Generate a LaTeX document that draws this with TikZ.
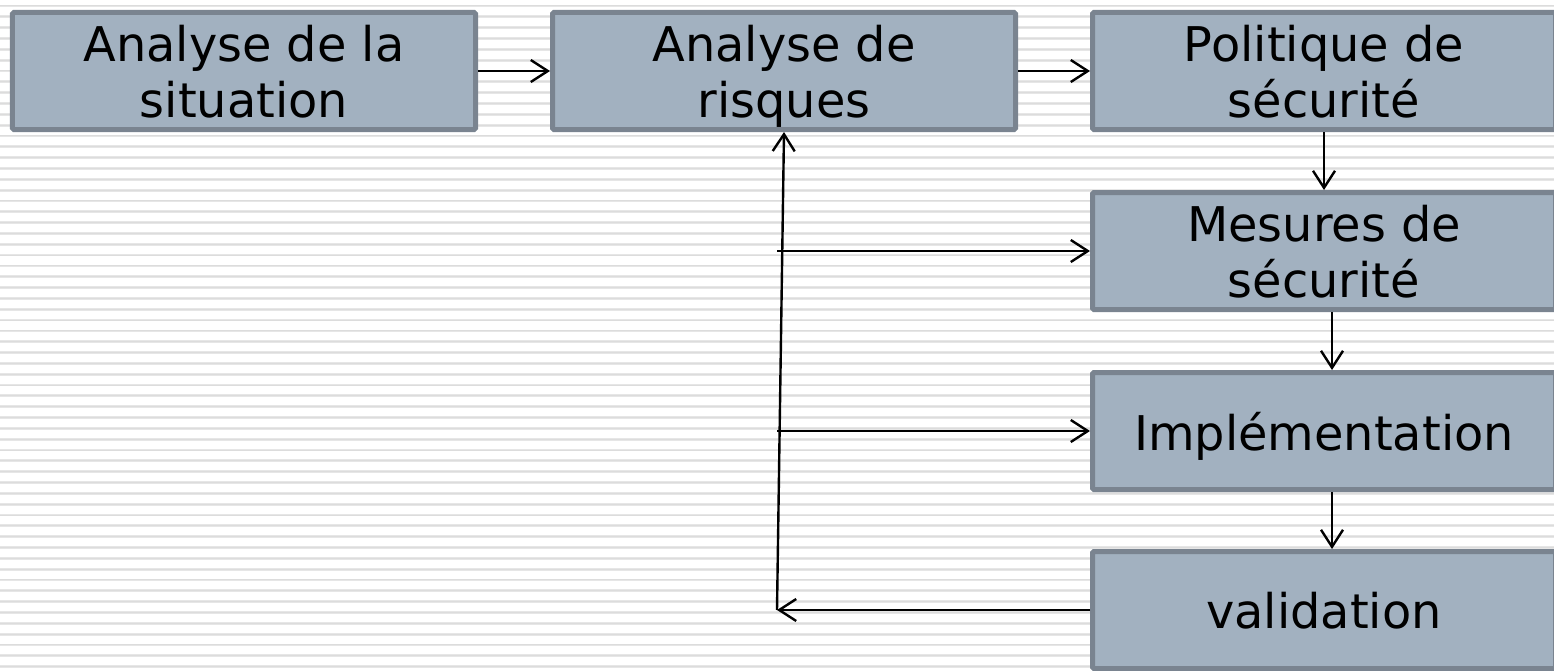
\documentclass[tikz,border=0pt]{standalone}
\usepackage{fontspec}
\setmainfont{DejaVu Sans}
\usetikzlibrary{arrows.meta}
\definecolor{boxfill}{HTML}{A2B1C0}
\definecolor{boxline}{HTML}{7A8490}
\definecolor{stripe}{HTML}{E6E6E6}
\definecolor{stripecore}{HTML}{DCDCDC}
\begin{document}
\begin{tikzpicture}[x=1bp,y=-1bp,
  stepbox/.style={draw=boxline, fill=boxfill, line width=5bp, rounded corners=1.5bp,
    minimum width=463bp, minimum height=117bp, inner sep=0pt, align=center,
    text depth=0pt, font=\fontsize{48}{56.5}\selectfont},
  link/.style={line width=2.4bp, -{Straight Barb[length=17bp,width=22bp]}}]
\useasboundingbox (0,0) rectangle (1554,671);
\clip (0,0) rectangle (1554,671);
\fill[white] (0,0) rectangle (1554,671);
% ruled background
\foreach \k in {0,...,61}{
  \draw[stripe, line width=2.8bp] (0,6+10.83*\k) -- (1554,6+10.83*\k);
  \draw[stripecore, line width=1bp] (0,6+10.83*\k) -- (1554,6+10.83*\k);
}

% process steps
\node[stepbox] (sit) at (244,71)   {Analyse de la\\situation};
\node[stepbox] (ris) at (784,71)   {Analyse de\\risques};
\node[stepbox] (pol) at (1324,71)  {Politique de\\sécurité};
\node[stepbox] (mes) at (1324,251) {Mesures de\\sécurité};
\node[stepbox] (imp) at (1324,431) {Implémentation};
\node[stepbox] (val) at (1324,610) {validation};

% feedback rail
\coordinate (fb)  at (777,610);
\coordinate (fbm) at (777,251);
\coordinate (fbi) at (777,431);

% main flow
\draw[link] (sit) -- (ris);
\draw[link] (ris) -- (pol);
\draw[link] (pol) -- (mes);
\draw[link] ([xshift=8bp]mes.south) -- ([xshift=8bp]imp.north);
\draw[link] ([xshift=8bp]imp.south) -- ([xshift=8bp]val.north);

% loop back to risk analysis
\draw[link] (val.west) -- (fb);
\draw[link] (fb) -- (ris.south);
\draw[link] (fbm) -- (mes.west);
\draw[link] (fbi) -- (imp.west);
\end{tikzpicture}
\end{document}
